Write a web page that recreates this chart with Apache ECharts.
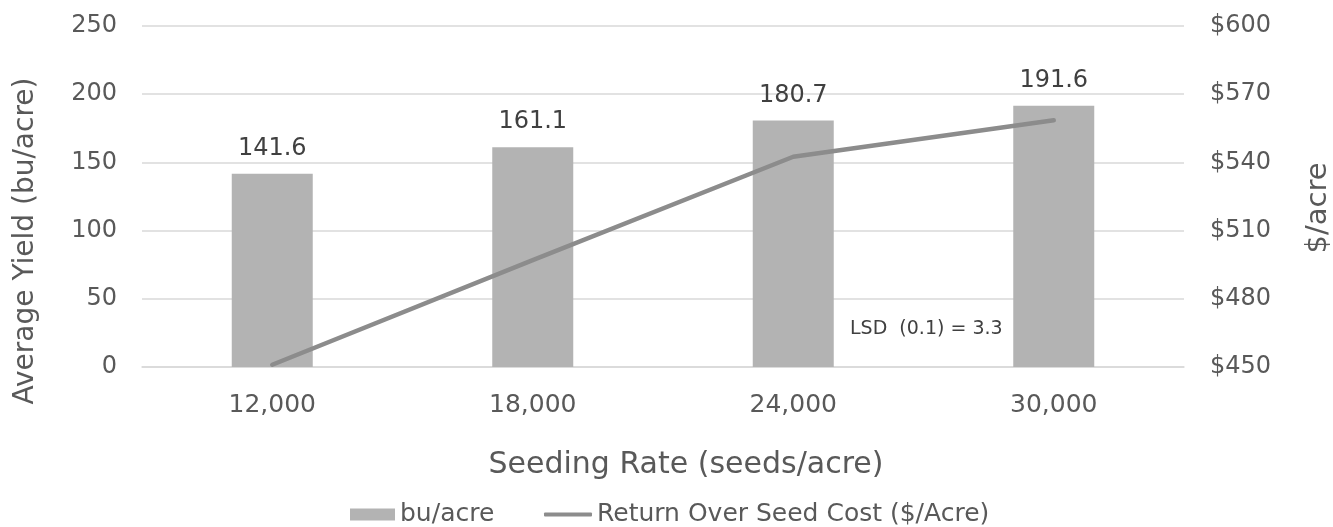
<!DOCTYPE html>
<html>
<head>
<meta charset="utf-8">
<script src="https://cdn.jsdelivr.net/npm/echarts@6/dist/echarts.min.js"></script>
<style>
html,body{margin:0;padding:0;background:#fff;}
#chart{width:1333px;height:527px;}
</style>
</head>
<body>
<div id="chart"></div>
<script>
const categories = ['12,000', '18,000', '24,000', '30,000'];
const yieldValues = [141.6, 161.1, 180.7, 191.6];
const returnValues = [451, 497, 542.5, 558.5];
const leftTicks = [0, 50, 100, 150, 200, 250];
const rightTicks = [450, 480, 510, 540, 570, 600];
const lsdText = 'LSD  (0.1) = 3.3';

const FONT = '"DejaVu Sans", "Liberation Sans", Arial, sans-serif';
const AXIS_COLOR = '#595959';
const chart = echarts.init(document.getElementById('chart'), null, {renderer: 'canvas'});
chart.setOption({
  backgroundColor: '#ffffff',
  animation: false,
  textStyle: {fontFamily: FONT},
  grid: {left: 142, right: 149, top: 26, bottom: 160, containLabel: false},
  legend: [
    {
      top: 497,
      left: 345,
      itemWidth: 45,
      itemHeight: 12,
      icon: 'rect',
      textStyle: {fontSize: 25, color: AXIS_COLOR, fontFamily: FONT},
      data: ['bu/acre']
    },
    {
      top: 497,
      left: 539,
      itemWidth: 48,
      itemHeight: 4,
      icon: 'roundRect',
      textStyle: {fontSize: 25, color: AXIS_COLOR, fontFamily: FONT},
      data: ['Return Over Seed Cost ($/Acre)']
    }
  ],
  xAxis: {
    type: 'category',
    data: categories,
    axisLine: {show: true, lineStyle: {color: '#d9d9d9', width: 1.5}},
    axisTick: {show: false},
    axisLabel: {fontSize: 25, color: AXIS_COLOR, margin: 26, fontFamily: FONT}
  },
  yAxis: [
    {
      type: 'value',
      min: leftTicks[0],
      max: leftTicks[leftTicks.length - 1],
      interval: 50,
      axisLine: {show: false},
      axisTick: {show: false},
      axisLabel: {fontSize: 24, color: AXIS_COLOR, margin: 25, fontFamily: FONT},
      splitLine: {show: true, lineStyle: {color: '#d9d9d9', width: 1.5}}
    },
    {
      type: 'value',
      min: rightTicks[0],
      max: rightTicks[rightTicks.length - 1],
      interval: 30,
      axisLine: {show: false},
      axisTick: {show: false},
      axisLabel: {fontSize: 24, color: AXIS_COLOR, margin: 26, fontFamily: FONT, formatter: v => '$' + v},
      splitLine: {show: false}
    }
  ],
  series: [
    {
      name: 'bu/acre',
      type: 'bar',
      yAxisIndex: 0,
      data: yieldValues,
      barWidth: 81,
      itemStyle: {color: '#b3b3b3'},
      label: {
        show: true,
        position: 'top',
        distance: 13,
        fontSize: 24,
        color: '#404040',
        fontFamily: FONT,
        formatter: p => p.value.toFixed(1)
      },
      z: 2
    },
    {
      name: 'Return Over Seed Cost ($/Acre)',
      type: 'line',
      yAxisIndex: 1,
      data: returnValues,
      symbol: 'none',
      showSymbol: false,
      lineStyle: {color: '#8c8c8c', width: 4.5, cap: 'round'},
      itemStyle: {color: '#8c8c8c'},
      z: 3
    }
  ],
  graphic: [
    {
      type: 'text',
      left: 850,
      top: 320,
      style: {text: lsdText, fontSize: 19, fill: '#404040', fontFamily: FONT}
    },
    {
      type: 'text',
      x: 26, y: 241,
      rotation: Math.PI / 2,
      style: {text: 'Average Yield (bu/acre)', fontSize: 28, fill: AXIS_COLOR, fontFamily: FONT,
              align: 'center', verticalAlign: 'middle'}
    },
    {
      type: 'text',
      x: 1318, y: 208,
      rotation: Math.PI / 2,
      style: {text: '$/acre', fontSize: 29, fill: AXIS_COLOR, fontFamily: FONT,
              align: 'center', verticalAlign: 'middle'}
    },
    {
      type: 'text',
      x: 686, y: 465,
      style: {text: 'Seeding Rate (seeds/acre)', fontSize: 30, fill: AXIS_COLOR, fontFamily: FONT,
              align: 'center', verticalAlign: 'middle'}
    }
  ]
});
</script>
</body>
</html>
